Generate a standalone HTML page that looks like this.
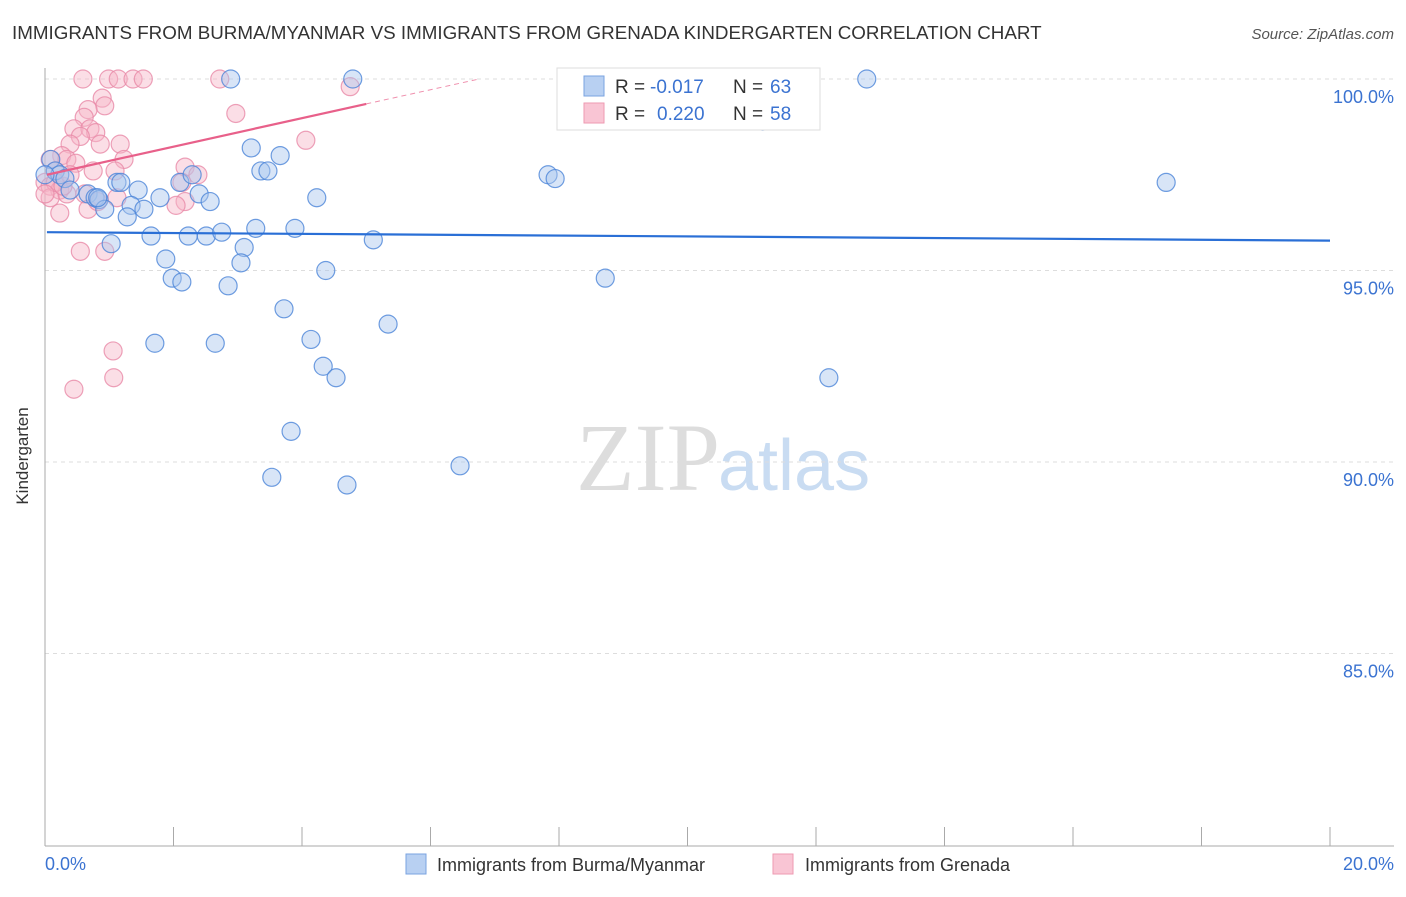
<!DOCTYPE html>
<html><head><meta charset="utf-8"><style>
body{margin:0;background:#fff;font-family:"Liberation Sans",sans-serif;}
</style></head><body>
<svg width="1406" height="892" xmlns="http://www.w3.org/2000/svg">
<text x="12" y="39" font-size="18.8" fill="#333">IMMIGRANTS FROM BURMA/MYANMAR VS IMMIGRANTS FROM GRENADA KINDERGARTEN CORRELATION CHART</text>
<text x="1394" y="39" font-size="15" fill="#555" text-anchor="end" font-style="italic">Source: ZipAtlas.com</text>
<text x="720" y="490" font-size="96" fill="#ddd" text-anchor="end" font-family="Liberation Serif">ZIP</text>
<text x="718" y="490" font-size="72" fill="#c9dcf2">atlas</text>
<g id="grid"></g>
<line x1="45" y1="68" x2="45" y2="846" stroke="#aaa"/>
<line x1="45" y1="846" x2="1394" y2="846" stroke="#aaa"/>
<g id="ticks"></g>
<text x="28" y="456" font-size="17" fill="#333" transform="rotate(-90 28 456)" text-anchor="middle">Kindergarten</text>
<text x="45" y="870" font-size="18" fill="#3b73d1">0.0%</text>
<text x="1394" y="870" font-size="18" fill="#3b73d1" text-anchor="end">20.0%</text>
<g id="pts"></g>
<g id="lines"></g>
<g>
<rect x="557" y="68" width="263" height="62" fill="#fff" stroke="#ddd"/>
<rect x="584" y="76" width="20" height="20" fill="#b8d0f2" stroke="#7aa3e0"/>
<rect x="584" y="103" width="20" height="20" fill="#f9c5d4" stroke="#ee9ab2"/>
<text x="615" y="93" font-size="19" fill="#333">R =</text>
<text x="650" y="93" font-size="19" fill="#3b73d1">-0.017</text>
<text x="733" y="93" font-size="19" fill="#333">N =</text>
<text x="770" y="93" font-size="19" fill="#3b73d1">63</text>
<text x="615" y="120" font-size="19" fill="#333">R =</text>
<text x="657" y="120" font-size="19" fill="#3b73d1">0.220</text>
<text x="733" y="120" font-size="19" fill="#333">N =</text>
<text x="770" y="120" font-size="19" fill="#3b73d1">58</text>
</g>
<g>
<rect x="406" y="854" width="20" height="20" fill="#b8d0f2" stroke="#7aa3e0"/>
<text x="437" y="871" font-size="18" fill="#333">Immigrants from Burma/Myanmar</text>
<rect x="773" y="854" width="20" height="20" fill="#f9c5d4" stroke="#ee9ab2"/>
<text x="805" y="871" font-size="18" fill="#333">Immigrants from Grenada</text>
</g>
</svg>
<script>
const yTicks=[100,95,90,85];
const xTicks=[0,2,4,6,8,10,12,14,16,18,20];
const blueX=[2.89,4.79,12.79,10.0,11.17,3.21,3.66,3.36,3.47,7.83,7.94,17.45,0.09,0.16,0.23,0.31,1.12,1.18,1.45,0.39,0.67,0.78,0.84,0.93,1.34,1.54,1.28,1.79,2.1,2.29,2.4,2.57,4.23,1.65,2.23,2.51,2.75,3.28,3.89,5.11,1.03,3.1,1.88,3.05,1.98,2.13,4.37,2.85,8.72,3.72,5.34,1.71,2.65,4.14,4.33,4.53,12.2,3.83,6.46,3.53,4.7,0.82,0];
const blueY=[100,100,100,100,98.9,98.2,98.0,97.6,97.6,97.5,97.4,97.3,97.9,97.6,97.5,97.4,97.3,97.3,97.1,97.1,97.0,96.9,96.85,96.6,96.7,96.6,96.4,96.9,97.3,97.5,97.0,96.8,96.9,95.9,95.9,95.9,96.0,96.1,96.1,95.8,95.7,95.6,95.3,95.2,94.8,94.7,95.0,94.6,94.8,94.0,93.6,93.1,93.1,93.2,92.5,92.2,92.2,90.8,89.9,89.6,89.4,96.9,97.5];
const pinkX=[0.59,0.99,1.14,1.37,1.53,2.72,4.75,2.97,4.06,0.89,0.93,0.67,0.61,0.45,0.7,0.79,0.55,0.39,0.86,1.17,0.26,0.34,0.48,1.23,0.75,1.09,0.08,0.16,0,0.08,0.23,0.34,0.62,1.12,0.08,0.23,0.67,0.82,2.18,2.13,2.38,2.18,2.04,0.55,0.93,1.06,1.07,0.45,0.16,0.28,0,0.39];
const pinkY=[100,100,100,100,100,100,99.8,99.1,98.4,99.5,99.3,99.2,99.0,98.7,98.7,98.6,98.5,98.3,98.3,98.3,98.0,97.9,97.8,97.9,97.6,97.6,97.9,97.6,97.3,97.2,97.1,97.0,97.0,96.9,96.9,96.5,96.6,96.8,97.7,97.3,97.5,96.8,96.7,95.5,95.5,92.9,92.2,91.9,97.3,97.2,97.0,97.5];
const blueFit=[96.0,95.78];
const pinkFit=[97.5,99.35];
const X=v=>45+v/20*1285, Y=v=>79+(100-v)*38.3;
const NS='http://www.w3.org/2000/svg';
function mk(t,a){const e=document.createElementNS(NS,t);for(const k in a)e.setAttribute(k,a[k]);return e;}
const grid=document.getElementById('grid'),ticks=document.getElementById('ticks');
yTicks.forEach(v=>{
 const l=mk('line',{x1:45,x2:1394,y1:Y(v),y2:Y(v),stroke:'#ddd','stroke-dasharray':'4 4'});
 
 
 grid.appendChild(l);
 const t=mk('text',{x:1394,y:Y(v)+24,'font-size':18,fill:'#3b73d1','text-anchor':'end'});
 t.textContent=v.toFixed(1)+'%';
 
 
 ticks.appendChild(t);
});
xTicks.forEach(v=>{
 const l=mk('line',{x1:X(v),x2:X(v),y1:827,y2:846,stroke:'#aaa'});
 
 
 ticks.appendChild(l);
});
const pts=document.getElementById('pts');
function dots(xs,ys,fill,stroke,name){xs.forEach((x,i)=>{
 const c=mk('circle',{cx:X(x),cy:Y(ys[i]),r:9,fill:fill,'fill-opacity':0.45,stroke:stroke,'stroke-opacity':0.8,'stroke-width':1.2});
 
 
 pts.appendChild(c);});}
dots(pinkX,pinkY,'#f7b5c8','#e98aa8','grenada-point');
dots(blueX,blueY,'#a9c6ee','#4b84d8','burma-point');
const lines=document.getElementById('lines');
let bl=mk('line',{x1:X(0.03),y1:Y(blueFit[0]),x2:X(20),y2:Y(blueFit[1]),stroke:'#2a6fd6','stroke-width':2.2});


lines.appendChild(bl);
const slope=(pinkFit[1]-pinkFit[0])/5;
let pl=mk('line',{x1:X(0.03),y1:Y(pinkFit[0]),x2:X(5),y2:Y(pinkFit[1]),stroke:'#e8608a','stroke-width':2.2});


lines.appendChild(pl);
const xe=5+(100-pinkFit[1])/slope;
let pd=mk('line',{x1:X(5),y1:Y(pinkFit[1]),x2:X(xe),y2:Y(100),stroke:'#e8608a','stroke-width':1,'stroke-dasharray':'5 4','stroke-opacity':0.7});


lines.appendChild(pd);
</script>
</body></html>
